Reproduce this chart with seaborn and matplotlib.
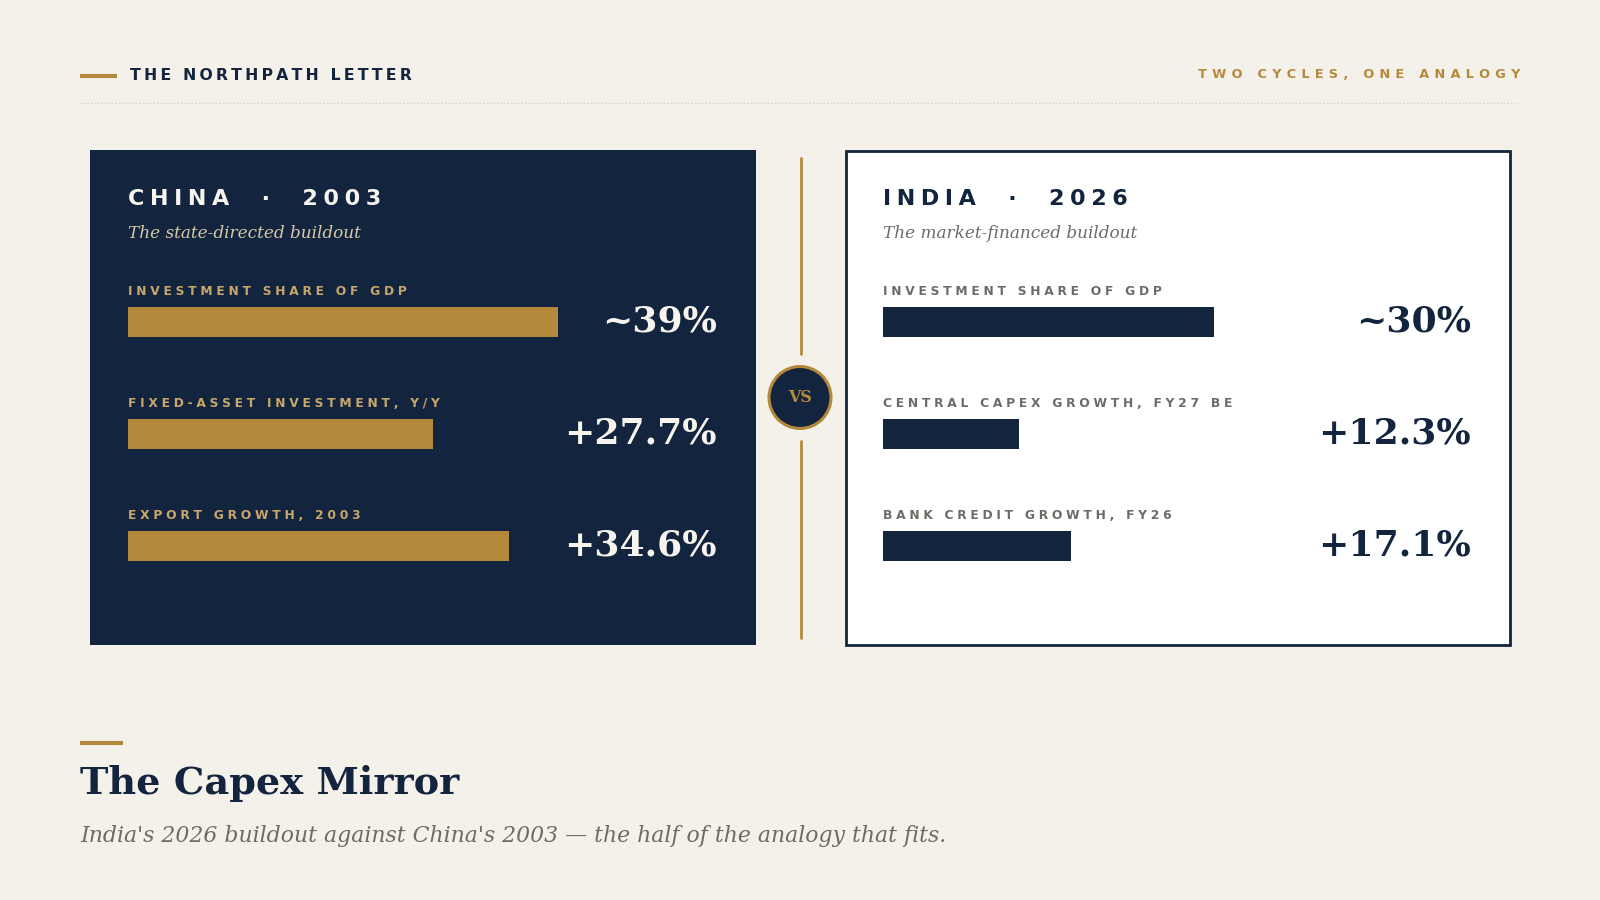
import matplotlib
matplotlib.use("Agg")
import matplotlib.pyplot as plt
import matplotlib.patches as mpatches
from matplotlib.transforms import blended_transform_factory
import seaborn as sns
import pandas as pd

# ---------------- data ----------------
china_labels = ["INVESTMENT SHARE OF GDP", "FIXED-ASSET INVESTMENT, Y/Y", "EXPORT GROWTH, 2003"]
china_values = [39.0, 27.7, 34.6]
china_texts = ["~39%", "+27.7%", "+34.6%"]

india_labels = ["INVESTMENT SHARE OF GDP", "CENTRAL CAPEX GROWTH, FY27 BE", "BANK CREDIT GROWTH, FY26"]
india_values = [30.0, 12.3, 17.1]
india_texts = ["~30%", "+12.3%", "+17.1%"]

header_left = "THE NORTHPATH LETTER"
header_right = "TWO CYCLES, ONE ANALOGY"
china_title = "CHINA  ·  2003"
china_sub = "The state-directed buildout"
india_title = "INDIA  ·  2026"
india_sub = "The market-financed buildout"
main_title = "The Capex Mirror"
main_sub = "India's 2026 buildout against China's 2003 \u2014 the half of the analogy that fits."

# ---------------- style ----------------
BG = "#f4f0ea"
NAVY = "#13243f"
GOLD = "#b5893b"
GRAY = "#6e6a66"
BEIGE = "#d8c9a6"
WHITE = "#f7f4ee"

sns.set_theme(style="white")
plt.rcParams["font.family"] = ["DejaVu Sans"]

W, H = 1600, 900
fig = plt.figure(figsize=(16, 9), dpi=100, facecolor=BG)

# overlay axes in pixel coordinates (y downwards)
ov = fig.add_axes([0, 0, 1, 1], zorder=0)
ov.set_xlim(0, W)
ov.set_ylim(H, 0)
ov.axis("off")
ov.set_facecolor(BG)

THIN = "\u2009"    # 0.2 em
HAIR = "\u200a"    # 0.1 em
QUART = "\u2005"   # 0.25 em


def track(s, sp=THIN):
    return sp.join(list(s))


# header
ov.plot([80, 117], [75.5, 75.5], color=GOLD, lw=3, solid_capstyle="butt")
ov.text(130, 75.5, track(header_left, THIN), fontsize=11.3, fontweight="bold", color=NAVY,
        ha="left", va="center")
ov.text(1520, 74.5, track(header_right, THIN + THIN), fontsize=9.3, fontweight="bold", color=GOLD,
        ha="right", va="center")
ov.plot([80, 1518], [103, 103], color="#d9d1c4", lw=1, ls=(0, (1, 1.5)))

# panels
ov.add_patch(mpatches.Rectangle((90, 150), 666, 495, facecolor=NAVY, edgecolor="none", zorder=1))
ov.add_patch(mpatches.Rectangle((846, 151), 664, 494, facecolor="white", edgecolor=NAVY, lw=2, zorder=1))

# divider with VS
ov.plot([801, 801], [158, 354], color=GOLD, lw=2, zorder=1)
ov.plot([801, 801], [441, 638], color=GOLD, lw=2, zorder=1)
ov.add_patch(mpatches.Circle((800, 397.5), 31, facecolor=NAVY, edgecolor=GOLD, lw=2.2, zorder=2))
ov.text(800, 397, "VS", family="DejaVu Serif", fontweight="bold", fontsize=11.5, color=GOLD,
        ha="center", va="center", zorder=3)

# panel titles
ov.text(128, 199, track(china_title, QUART), fontsize=16, fontweight="bold", color=WHITE,
        ha="left", va="center", zorder=3)
ov.text(128, 233, china_sub, family="DejaVu Serif", style="italic", fontsize=12.2, color=BEIGE,
        ha="left", va="center", zorder=3)
ov.text(883, 199, track(india_title, QUART), fontsize=16, fontweight="bold", color=NAVY,
        ha="left", va="center", zorder=3)
ov.text(883, 233, india_sub, family="DejaVu Serif", style="italic", fontsize=12.2, color=GRAY,
        ha="left", va="center", zorder=3)

# bottom title block
ov.plot([80, 123], [743, 743], color=GOLD, lw=3, solid_capstyle="butt")
ov.text(80, 784, main_title, family="DejaVu Serif", fontweight="bold", fontsize=27.5, color=NAVY,
        ha="left", va="center")
ov.text(80, 836, main_sub, family="DejaVu Serif", style="italic", fontsize=15.8, color=GRAY,
        ha="left", va="center")

# ---------------- bar panels ----------------
PX_PER_PCT = 11.02
XMAX = 50
ROW_TOP, ROW_STEP = 322, 112


def bar_panel(x0, labels, values, texts, bar_color, label_color, value_color, value_right):
    left = x0 / W
    width = PX_PER_PCT * XMAX / W
    top_px = ROW_TOP - ROW_STEP / 2
    bot_px = ROW_TOP + ROW_STEP * (len(values) - 1) + ROW_STEP / 2
    ax = fig.add_axes([left, 1 - bot_px / H, width, (bot_px - top_px) / H], zorder=2)
    df = pd.DataFrame({"metric": labels, "value": values})
    sns.barplot(data=df, x="value", y="metric", order=labels, orient="h", color=bar_color,
                width=0.26, saturation=1, edgecolor="none", ax=ax)
    ax.set_xlim(0, XMAX)
    ax.set_ylim(len(values) - 0.5, -0.5)
    ax.axis("off")
    ax.patch.set_alpha(0)
    for i, lab in enumerate(labels):
        ax.text(0, i - 0.27, track(lab, THIN + HAIR), fontsize=8.8, fontweight="bold",
                color=label_color, ha="left", va="center")
    tr = blended_transform_factory(ov.transData, ax.transData)
    for i, t in enumerate(texts):
        ax.text(value_right, i - 0.005, t, transform=tr, family="DejaVu Serif", fontweight="bold",
                fontsize=26, color=value_color, ha="right", va="center", clip_on=False)
    return ax


bar_panel(128, china_labels, china_values, china_texts, GOLD, "#c9a76a", WHITE, 717)
bar_panel(883, india_labels, india_values, india_texts, NAVY, GRAY, NAVY, 1471)

fig.savefig("out.png", dpi=100, facecolor=BG)
